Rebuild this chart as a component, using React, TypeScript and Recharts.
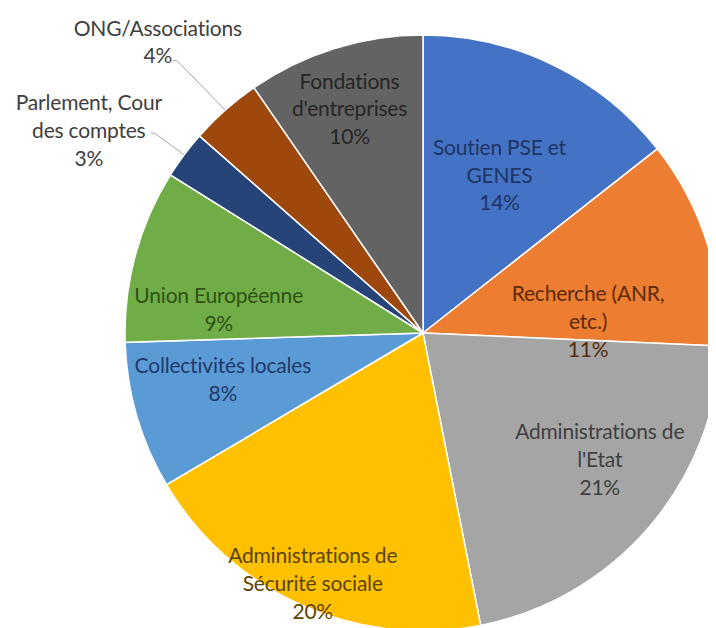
import React from 'react';
import { PieChart, Pie, Cell } from 'recharts';

// Categories, one entry per label line
const CATEGORY_LINES: string[][] = [
  ['Soutien PSE et', 'GENES'],
  ['Recherche (ANR,', 'etc.)'],
  ['Administrations de', "l'Etat"],
  ['Administrations de', 'Sécurité sociale'],
  ['Collectivités locales'],
  ['Union Européenne'],
  ['Parlement, Cour', 'des comptes'],
  ['ONG/Associations'],
  ['Fondations', "d'entreprises"],
];

// Share of funding (%)
const SHARES = [14.4, 11.3, 21.2, 19.6, 8.0, 9.4, 2.6, 3.9, 9.6];

const COLORS = ['#4472C4', '#ED7D31', '#A5A5A5', '#FFC000', '#5B9BD5', '#70AD47', '#264478', '#9E480E', '#636363'];
const TEXT_COLORS = ['#1F3564', '#5A2A0A', '#404040', '#5C4500', '#1F3A6B', '#2F5215', '#404040', '#404040', '#262626'];

// label placement: angle shift (deg, clockwise), radius as fraction of outer radius, leader line start offset
const LABEL_SPOTS = [
  { shift: 0, r: 0.587 },
  { shift: 14, r: 0.555 },
  { shift: -5, r: 0.73 },
  { shift: -0.4, r: 0.92 },
  { shift: 3, r: 0.69 },
  { shift: -8.6, r: 0.69 },
  { shift: -5.6, r: 1.31, lead: [62, 2] },
  { shift: -0.8, r: 1.32, lead: [15, 18] },
  { shift: -0.9, r: 0.79 },
];

const data = CATEGORY_LINES.map((lines, i) => ({ name: lines.join(' '), value: SHARES[i] }));

const FONT = 'Lato, "Open Sans", sans-serif';
const LINE_H = 27.8;

const renderLabel = (props: any) => {
  const { cx, cy, midAngle, outerRadius, percent, index } = props;
  const spot = LABEL_SPOTS[index];
  const midClock = 90 - midAngle;
  const a = ((midClock + spot.shift) * Math.PI) / 180;
  const x = cx + spot.r * outerRadius * Math.sin(a);
  const y = cy - spot.r * outerRadius * Math.cos(a);
  const lines = [...CATEGORY_LINES[index], `${Math.round(percent * 100)}%`];
  const y0 = y - ((lines.length - 1) / 2) * LINE_H + 7;

  let leader = null;
  if (spot.lead) {
    const m = (midClock * Math.PI) / 180;
    const ex = cx + outerRadius * Math.sin(m);
    const ey = cy - outerRadius * Math.cos(m);
    const sx = x + spot.lead[0];
    const sy = y + spot.lead[1];
    leader = (
      <polyline points={`${sx},${sy} ${sx + 4},${sy} ${ex},${ey}`} fill="none" stroke="#A6A6A6" strokeWidth={1} />
    );
  }

  return (
    <g key={`lbl-${index}`}>
      {leader}
      <text x={x} y={y0} textAnchor="middle" fill={TEXT_COLORS[index]} fontFamily={FONT} fontSize={21} letterSpacing={-0.2}>
        {lines.map((t, k) => (
          <tspan key={k} x={x} dy={k === 0 ? 0 : LINE_H}>
            {t}
          </tspan>
        ))}
      </text>
    </g>
  );
};

export default function App() {
  return (
    <PieChart width={708} height={620}>
      <Pie
        data={data}
        dataKey="value"
        nameKey="name"
        cx={410}
        cy={320}
        outerRadius={298}
        startAngle={90}
        endAngle={-270}
        stroke="#ffffff"
        strokeWidth={1.5}
        label={renderLabel}
        labelLine={false}
        isAnimationActive={false}
      >
        {data.map((d, i) => (
          <Cell key={d.name} fill={COLORS[i]} />
        ))}
      </Pie>
    </PieChart>
  );
}
